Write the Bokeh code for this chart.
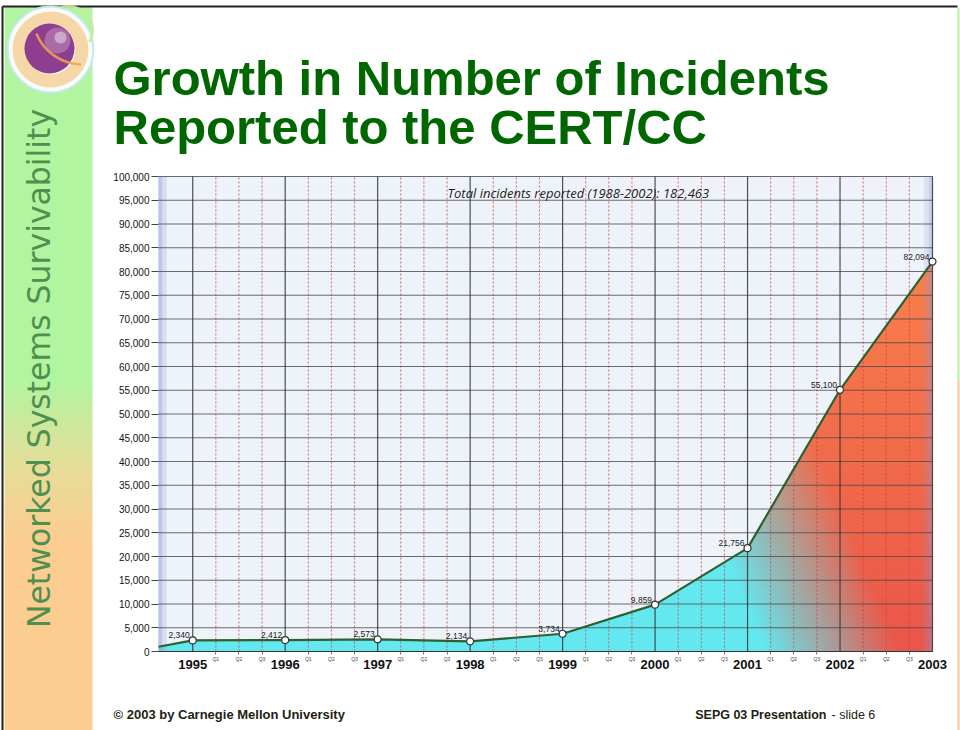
import numpy as np
from math import pi
from bokeh.plotting import figure
from bokeh.models import (Range1d, FixedTicker, NumeralTickFormatter, CustomJSTickFormatter,
                          LinearAxis, BoxAnnotation, ColumnDataSource)
from bokeh.core.properties import value
from bokeh.embed import file_html
from bokeh.resources import INLINE

# ---------------- data ----------------
years = [1995, 1996, 1997, 1998, 1999, 2000, 2001, 2002, 2003]
incidents = [2340, 2412, 2573, 2134, 3734, 9859, 21756, 55100, 82094]
point_labels = ["2,340", "2,412", "2,573", "2,134", "3,734", "9,859", "21,756", "55,100", "82,094"]
lead_in_year = 1994.63          # left edge of the chart, where the area begins
lead_in_value = 1000
x_start, x_end = 1994.63, 2003.0
y_max = 100000
y_ticks = list(range(0, 100001, 5000))
year_ticks = list(range(1995, 2004))
quarter_ticks = [y + q / 4 for y in range(1995, 2003) for q in (1, 2, 3)]
total_note = "Total incidents reported (1988-2002): 182,463"
slide_title = ["Growth in Number of Incidents", "Reported to the CERT/CC"]
side_text = "Networked Systems Survivability"
footer_left = "\u00a9 2003 by Carnegie Mellon University"
footer_right_bold = "SEPG 03 Presentation"
footer_right = "- slide 6"

line_x = [lead_in_year] + years
line_y = [lead_in_value] + incidents

# ---------------- page geometry (canvas pixels) ----------------
CW, CH = 960, 730
FL, FR, FT, FB = 158, 932, 176, 651      # chart area on the slide
xs = (x_end - x_start) / (FR - FL)
ys = y_max / (FB - FT)
BASE = 0.38                              # alphabetic-baseline correction (em)

def cy(v):                               # canvas y (from top) -> px range value
    return CH - v

p = figure(width=CW, height=CH,
           x_range=Range1d(x_start - FL * xs, x_end + (CW - FR) * xs),
           y_range=Range1d(-(CH - FB) * ys, y_max + FT * ys),
           output_backend="svg", toolbar_location=None, min_border=0,
           x_axis_type=None, y_axis_type=None)
p.extra_x_ranges = {"px": Range1d(0, CW)}
p.extra_y_ranges = {"px": Range1d(0, CH)}
p.outline_line_color = None
p.background_fill_color = "white"
p.border_fill_color = "white"
PX = dict(x_range_name="px", y_range_name="px")

# ---------------- left decorative panel ----------------
H, Wd = 360, 4
bar = np.empty((H, Wd), dtype=np.uint32)
bv = bar.view(dtype=np.uint8).reshape((H, Wd, 4))
green = np.array([178, 245, 160])
tan = np.array([232, 220, 152])
orange = np.array([252, 205, 145])
for i in range(H):
    c_y = CH - (i + 0.5) / H * 724
    if c_y < 380:
        c = green
    elif c_y < 470:
        t = (c_y - 380) / 90
        c = green * (1 - t) + tan * t
    elif c_y < 540:
        t = (c_y - 470) / 70
        c = tan * (1 - t) + orange * t
    else:
        c = orange
    bv[i, :, 0:3] = c.astype(np.uint8)
    bv[i, :, 3] = 255
p.image_rgba(image=[bar], x=4, y=0, dw=88, dh=724, level="image", **PX)

# slide border lines
p.line(x=[2, 2], y=[cy(730), cy(6)], line_color="#222222", line_width=2, **PX)
p.line(x=[2, 957], y=[cy(6), cy(6)], line_color="#222222", line_width=2, **PX)
p.line(x=[958, 958], y=[cy(7), cy(380)], line_color="#b8f0a0", line_width=2, **PX)
p.line(x=[958, 958], y=[cy(380), cy(730)], line_color="#f8c890", line_width=2, **PX)

# logo
p.circle(x=[50], y=[cy(49)], radius=43, fill_color="#f7fcfa", line_color="#c6e8e4",
         line_width=2, **PX)
p.annulus(x=[50], y=[cy(49)], inner_radius=25, outer_radius=38, fill_color="#f4c785",
          fill_alpha=0.7, line_color=None, **PX)
p.arc(x=[68], y=[cy(30)], radius=[24, 30, 36, 42], start_angle=-0.5, end_angle=1.9,
      line_color="#c4ec9c", line_width=3, line_alpha=0.9, **PX)
p.circle(x=[49], y=[cy(48)], radius=25, fill_color="#8e3e8e", line_color=None, **PX)
p.circle(x=[57], y=[cy(40)], radius=13, fill_color="#c49ac2", fill_alpha=0.5,
         line_color=None, **PX)
p.circle(x=[60], y=[cy(37)], radius=6, fill_color="#e6d4e2", fill_alpha=0.6,
         line_color=None, **PX)
p.arc(x=[82], y=[cy(14)], radius=[50, 56, 62], start_angle=-2.75, end_angle=-1.6,
      line_color="#f2a450", line_width=2.5, line_alpha=0.85, **PX)

p.text(x=[50 - BASE * 31.5], y=[cy(368)], text=[side_text], angle=pi / 2, text_align="center",
       text_baseline="alphabetic", text_font=value("DejaVu Sans"), text_font_size="31.5px",
       text_color="#4f8f4f", **PX)

# slide title and footer
for txt, base in zip(slide_title, [96, 145]):
    p.text(x=[113], y=[cy(base - BASE * 49)], text=[txt], text_align="left",
           text_baseline="alphabetic", text_font=value("Liberation Sans"),
           text_font_style="bold", text_font_size="49px", text_color="#006600", **PX)
p.text(x=[113], y=[cy(714)], text=[footer_left], text_align="left", text_baseline="middle",
       text_font=value("Liberation Sans"), text_font_style="bold", text_font_size="13px",
       text_color="#222211", **PX)
p.text(x=[826], y=[cy(714)], text=[footer_right_bold], text_align="right", text_baseline="middle",
       text_font=value("Liberation Sans"), text_font_style="bold", text_font_size="12.5px",
       text_color="#222211", **PX)
p.text(x=[831], y=[cy(714)], text=[footer_right], text_align="left", text_baseline="middle",
       text_font=value("Liberation Sans"), text_font_size="12.5px",
       text_color="#222211", **PX)

# ---------------- chart ----------------
GH, GW = 240, 400
grad = np.empty((GH, GW), dtype=np.uint32)
gv = grad.view(dtype=np.uint8).reshape((GH, GW, 4))
jj, ii = np.meshgrid(np.arange(GW), np.arange(GH))
X = FL + (jj + 0.5) / GW * (FR - FL)
Y = FB - (ii + 0.5) / GH * (FB - FT)
s = X + 0.42 * (FB - Y)
t = np.clip((s - 765) / 135, 0, 1)[..., None]
cyan = np.array([100, 232, 240])
red_top = np.array([249, 128, 76])
red_low = np.array([234, 86, 74])
v = np.clip((Y - 260) / 390, 0, 1)[..., None]
red = red_top * (1 - v) + red_low * v
col = cyan * (1 - t) + red * t
gv[..., 0:3] = col.astype(np.uint8)
gv[..., 3] = 255
p.image_rgba(image=[grad], x=x_start, y=0, dw=x_end - x_start, dh=y_max, level="image")

# plot-area background above the line
p.varea(x=line_x, y1=line_y, y2=y_max, fill_color="#eef3f9", level="underlay")

# edge shading bands
for lft, rgt, a in [(x_start, x_start + 0.04, 0.5), (x_start + 0.04, x_start + 0.09, 0.22),
                    (x_end - 0.09, x_end - 0.04, 0.2), (x_end - 0.04, x_end, 0.4)]:
    p.add_layout(BoxAnnotation(left=lft, right=rgt, bottom=0, top=y_max, fill_color="#8f96d8",
                               fill_alpha=a, line_color=None, level="underlay"))

# grid lines limited to the chart area
nq, ny, nt = len(quarter_ticks), len(year_ticks), len(y_ticks)
p.segment(x0=quarter_ticks, y0=[0] * nq, x1=quarter_ticks, y1=[y_max] * nq,
          line_color="#cc3b3b", line_dash="2 2", line_width=1, line_alpha=0.75)
p.segment(x0=[x_start] * nt, y0=y_ticks, x1=[x_end] * nt, y1=y_ticks,
          line_color="#4a4a4a", line_width=1.2, line_alpha=0.8)
p.segment(x0=year_ticks, y0=[0] * ny, x1=year_ticks, y1=[y_max] * ny,
          line_color="#333333", line_width=1.2, line_alpha=0.85)

# line, points, value labels
src = ColumnDataSource(dict(year=years, value=incidents, label=point_labels))
p.line(x=line_x, y=line_y, line_color="#2f5f2f", line_width=2.2)
p.scatter(x="year", y="value", source=src, marker="circle", size=7, fill_color="white",
          line_color="#333333", line_width=1.2)
p.text(x="year", y="value", text="label", source=src, text_align="right", text_baseline="middle",
       x_offset=-3, y_offset=-5, text_font=value("Liberation Sans"), text_font_size="8.5px",
       text_color="#1a1a1a")

p.text(x=[1999.17], y=[96600], text=[total_note], text_align="center", text_baseline="middle",
       text_font=value("Open Sans"), text_font_style="italic", text_font_size="13px",
       text_color="#222222")

# axes drawn at the chart's own edges
yax = LinearAxis(ticker=FixedTicker(ticks=y_ticks), formatter=NumeralTickFormatter(format="0,0"),
                 fixed_location=x_start, bounds=(0, y_max),
                 major_tick_out=7, major_tick_in=0, minor_tick_out=0, major_label_standoff=2,
                 major_label_text_font="Liberation Sans", major_label_text_font_size="10px",
                 major_label_text_color="#111111", major_tick_line_color="#444444",
                 axis_line_color=None)
p.add_layout(yax, "left")

qax = LinearAxis(ticker=FixedTicker(ticks=quarter_ticks),
                 formatter=CustomJSTickFormatter(code="""
                    const q = Math.round((tick - Math.floor(tick)) * 4);
                    return (q > 0 && q < 4) ? "Q" + q : "";"""),
                 fixed_location=0, bounds=(x_start, x_end),
                 major_tick_out=3, major_tick_in=0, minor_tick_out=0, major_label_standoff=1,
                 major_label_text_font="Liberation Sans", major_label_text_font_size="5px",
                 major_label_text_color="#444444", major_tick_line_color="#777777",
                 axis_line_color="#333333", axis_line_width=1.2)
p.add_layout(qax, "below")

yrax = LinearAxis(ticker=FixedTicker(ticks=year_ticks),
                  formatter=CustomJSTickFormatter(code="return tick.toFixed(0);"),
                  fixed_location=0, bounds=(x_start, x_end),
                  major_tick_out=0, major_tick_in=0, minor_tick_out=0, major_label_standoff=8,
                  major_label_text_font="Liberation Sans", major_label_text_font_style="bold",
                  major_label_text_font_size="13px", major_label_text_color="#111111",
                  axis_line_color=None)
p.add_layout(yrax, "below")

open("out.html", "w").write(file_html(p, INLINE))
